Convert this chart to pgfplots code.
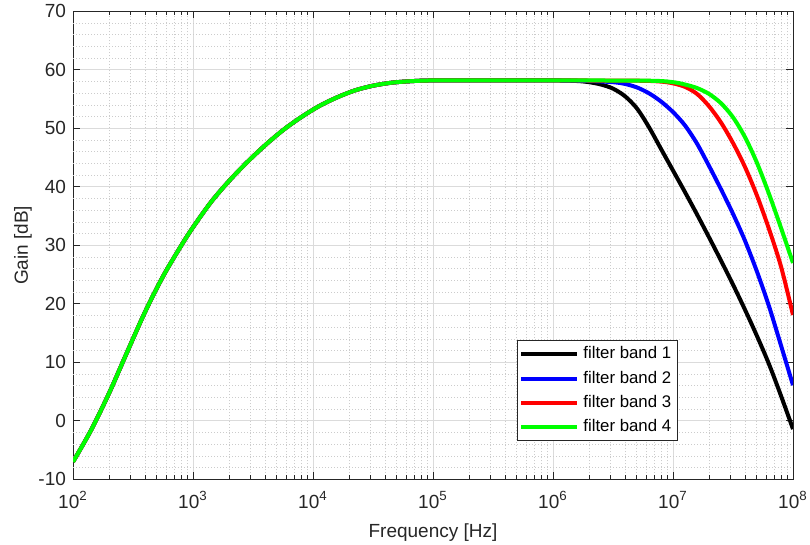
\documentclass[border=0pt]{standalone}
\usepackage{fontspec}
\setmainfont{Liberation Sans}
\usepackage{pgfplots}
\pgfplotsset{compat=1.18}
\definecolor{axgray}{gray}{0.15}
\definecolor{majgrid}{gray}{0.86}
\definecolor{mingrid}{gray}{0.80}
\begin{document}
\begin{tikzpicture}
\useasboundingbox (-36.5pt,-32.5pt) rectangle (368.5pt,239.7pt);
\begin{axis}[
  scale only axis, width=360pt, height=234pt,
  at={(0pt,0pt)}, anchor=south west,
  xmode=log, xmin=1e2, xmax=1e8, ymin=-10, ymax=70,
  xtick={1e2,1e3,1e4,1e5,1e6,1e7,1e8},
  xticklabels={10\textsuperscript{2},10\textsuperscript{3},10\textsuperscript{4},10\textsuperscript{5},10\textsuperscript{6},10\textsuperscript{7},10\textsuperscript{8}},
  ytick={-10,0,10,20,30,40,50,60,70},
  yticklabels={-10,0,10,20,30,40,50,60,70},
  extra y ticks={-8,-6,-4,-2,2,4,6,8,12,14,16,18,22,24,26,28,32,34,36,38,42,44,46,48,52,54,56,58,62,64,66,68},
  extra y tick labels={},
  extra y tick style={major tick length=0pt, grid=major, major grid style={dash pattern=on 0.5pt off 1pt, mingrid, line width=0.4pt}},
  grid=both,
  major grid style={majgrid, line width=0.5pt},
  minor grid style={dash pattern=on 0.5pt off 1pt, mingrid, line width=0.4pt},
  axis line style={axgray, line width=0.4pt},
  tick style={axgray, line width=0.4pt},
  major tick length=3.5pt, minor tick length=2pt,
  tick align=inside,
  xtick pos=both, ytick pos=both,
  xticklabel pos=bottom, yticklabel pos=left,
  tick label style={font=\fontsize{9.5}{10}\selectfont, text=axgray},
  xticklabel style={yshift=-2.5pt},
  label style={font=\fontsize{9.5}{11}\selectfont, text=axgray},
  xlabel style={yshift=-0.5pt},
  ylabel style={yshift=-3.5pt},
  xlabel={Frequency [Hz]},
  ylabel={Gain [dB]},
  legend cell align=left,
  legend style={at={(rel axis cs:0.6167,0.297)}, anchor=north west,
    draw=axgray, fill=white, font=\fontsize{8.4}{10}\selectfont,
    inner sep=1pt, row sep=0.5pt, line width=0.4pt},
  legend image code/.code={\draw[#1, line width=2pt] (0pt,0pt) -- (28pt,0pt);},
  every axis plot/.append style={line width=2pt, smooth},
]
\addplot[black] coordinates {
(100,-7.0) (141.3,-1.6) (199.5,4.7) (281.8,11.7) (398.1,18.6) (562.3,24.7) (794.3,29.9) (1000,33.1) (1412.5,37.4) (1995,41.0) (2818,44.2) (3981,47.1) (5623,49.7) (7943,51.9) (11220,53.8) (15849,55.3) (22387,56.5) (31623,57.3) (44668,57.8) (63096,58.05) (100000,58.2) (316228,58.2) (1000000,58.2)
(1.585e6,58.1) (1.995e6,57.9) (2.512e6,57.5) (3.162e6,56.8) (3.981e6,55.5) (5.012e6,53.4) (6.310e6,50.2) (7.943e6,46.5) (1e7,42.8) (1.259e7,39.1) (1.585e7,35.3) (1.995e7,31.4) (2.512e7,27.4) (3.162e7,23.3) (3.981e7,19.0) (5.012e7,14.5) (6.310e7,9.7) (7.943e7,4.3) (1e8,-1.4)};
\addlegendentry{filter band 1}
\addplot[blue] coordinates {
(100,-7.0) (141.3,-1.6) (199.5,4.7) (281.8,11.7) (398.1,18.6) (562.3,24.7) (794.3,29.9) (1000,33.1) (1412.5,37.4) (1995,41.0) (2818,44.2) (3981,47.1) (5623,49.7) (7943,51.9) (11220,53.8) (15849,55.3) (22387,56.5) (31623,57.3) (44668,57.8) (63096,58.05) (100000,58.2) (316228,58.2) (1000000,58.2)
(1.995e6,58.1) (3.162e6,57.9) (3.981e6,57.6) (5.012e6,57.0) (6.310e6,56.0) (7.943e6,54.6) (1e7,52.8) (1.259e7,50.5) (1.585e7,47.4) (1.995e7,43.6) (2.512e7,39.6) (3.162e7,35.4) (3.981e7,30.8) (5.012e7,25.5) (6.310e7,19.6) (7.943e7,12.9) (1e8,6.1)};
\addlegendentry{filter band 2}
\addplot[red] coordinates {
(100,-7.0) (141.3,-1.6) (199.5,4.7) (281.8,11.7) (398.1,18.6) (562.3,24.7) (794.3,29.9) (1000,33.1) (1412.5,37.4) (1995,41.0) (2818,44.2) (3981,47.1) (5623,49.7) (7943,51.9) (11220,53.8) (15849,55.3) (22387,56.5) (31623,57.3) (44668,57.8) (63096,58.05) (100000,58.2) (316228,58.2) (1000000,58.2)
(5.012e6,58.15) (7.943e6,58.0) (1e7,57.7) (1.259e7,57.1) (1.585e7,55.9) (1.995e7,53.8) (2.512e7,51.0) (3.162e7,47.5) (3.981e7,43.4) (5.012e7,38.5) (6.310e7,32.8) (7.943e7,26.4) (1e8,18.1)};
\addlegendentry{filter band 3}
\addplot[green] coordinates {
(100,-7.0) (141.3,-1.6) (199.5,4.7) (281.8,11.7) (398.1,18.6) (562.3,24.7) (794.3,29.9) (1000,33.1) (1412.5,37.4) (1995,41.0) (2818,44.2) (3981,47.1) (5623,49.7) (7943,51.9) (11220,53.8) (15849,55.3) (22387,56.5) (31623,57.3) (44668,57.8) (63096,58.05) (100000,58.2) (316228,58.2) (1000000,58.2)
(6.310e6,58.15) (1e7,57.9) (1.259e7,57.5) (1.585e7,56.9) (1.995e7,55.9) (2.512e7,54.3) (3.162e7,51.9) (3.981e7,48.5) (5.012e7,44.1) (6.310e7,38.8) (7.943e7,33.0) (1e8,27.0)};
\addlegendentry{filter band 4}
\end{axis}
\end{tikzpicture}
\end{document}
